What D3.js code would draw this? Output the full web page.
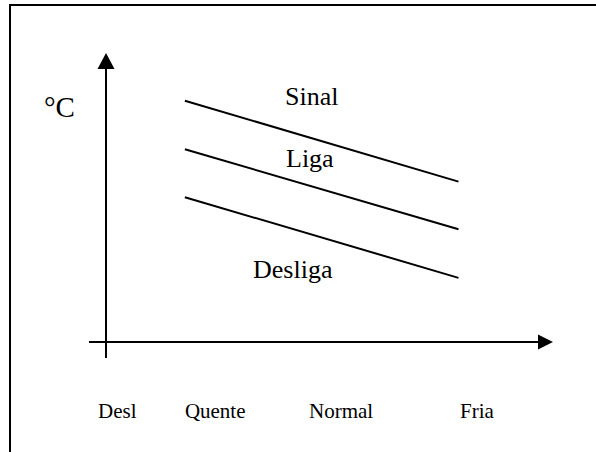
<!DOCTYPE html>
<html>
<head>
<meta charset="utf-8">
<script src="https://cdn.jsdelivr.net/npm/d3@7"></script>
<style>
    body { margin: 0; background: #fff; }
    svg { display: block; }
</style>
</head>
<body>
<div id="chart_container"></div>
<script>
// gauge positions (Desl .. Fria) and the three thermostat lines
var categories = ['Desl', 'Quente', 'Normal', 'Fria'];
var gaugeValues = [0, 24, 58.3, 100];
var seriesNames = ['Sinal', 'Liga', 'Desliga'];
var startTemps = [83.5, 66.7, 50.1];
var endTemps = [55.5, 39.0, 22.2];
var yLabel = '°C';

renderChart();

function renderChart() {
    const width = 596;
    const height = 452;
    const font = "'Liberation Serif', 'Times New Roman', Times, serif";

    var svg = d3.select('#chart_container')
        .append('svg')
        .attr('width', width)
        .attr('height', height);

    // frame (only left and top edges fall inside the picture)
    svg.append('rect')
        .attr('x', 10)
        .attr('y', 5)
        .attr('width', 620)
        .attr('height', 480)
        .attr('fill', 'none')
        .attr('stroke', 'black')
        .attr('stroke-width', 2);

    var xScale = d3.scaleLinear()
        .domain([0, 100])
        .range([98, 460]);

    var yScale = d3.scaleLinear()
        .domain([0, 100])
        .range([342, 53]);

    var axisX = 106;
    var axisY = yScale(0);

    // y axis with arrow
    svg.append('line')
        .attr('x1', axisX)
        .attr('y1', 358)
        .attr('x2', axisX)
        .attr('y2', yScale(100) + 12)
        .attr('stroke', 'black')
        .attr('stroke-width', 2);

    svg.append('path')
        .attr('d', d3.line()([[axisX, yScale(100)], [axisX - 8.5, yScale(100) + 16], [axisX + 8.5, yScale(100) + 16]]) + 'Z')
        .attr('fill', 'black');

    // x axis with arrow
    svg.append('line')
        .attr('x1', 89)
        .attr('y1', axisY)
        .attr('x2', 542)
        .attr('y2', axisY)
        .attr('stroke', 'black')
        .attr('stroke-width', 2);

    svg.append('path')
        .attr('d', d3.line()([[553, axisY], [538, axisY - 7.5], [538, axisY + 7.5]]) + 'Z')
        .attr('fill', 'black');

    svg.append('text')
        .attr('x', 44)
        .attr('y', 117)
        .attr('font-size', '29px')
        .attr('font-family', font)
        .text(yLabel);

    // category labels under the axis
    svg.selectAll('.cat')
        .data(categories)
        .enter()
        .append('text')
        .attr('class', 'cat')
        .attr('x', (d, i) => xScale(gaugeValues[i]))
        .attr('y', 418)
        .attr('font-size', '21px')
        .attr('font-family', font)
        .text(d => d);

    var data = seriesNames.map((name, i) => ({ name: name, start: startTemps[i], end: endTemps[i] }));
    var x0 = xScale(gaugeValues[1]);
    var x1 = xScale(gaugeValues[3]) - 1.5;

    svg.selectAll('.series')
        .data(data)
        .enter()
        .append('line')
        .attr('class', 'series')
        .attr('x1', x0)
        .attr('y1', d => yScale(d.start))
        .attr('x2', x1)
        .attr('y2', d => yScale(d.end))
        .attr('stroke', 'black')
        .attr('stroke-width', 2);

    // labels placed relative to their line
    var labelX = [285, 286, 253];
    var labelDy = [-25, -12, 61];
    svg.selectAll('.series-label')
        .data(data)
        .enter()
        .append('text')
        .attr('class', 'series-label')
        .attr('x', (d, i) => labelX[i])
        .attr('y', (d, i) => {
            var t = (labelX[i] - x0) / (x1 - x0);
            return yScale(d.start) + t * (yScale(d.end) - yScale(d.start)) + labelDy[i];
        })
        .attr('font-size', '26px')
        .attr('font-family', font)
        .text(d => d.name);
}
</script>
</body>
</html>
